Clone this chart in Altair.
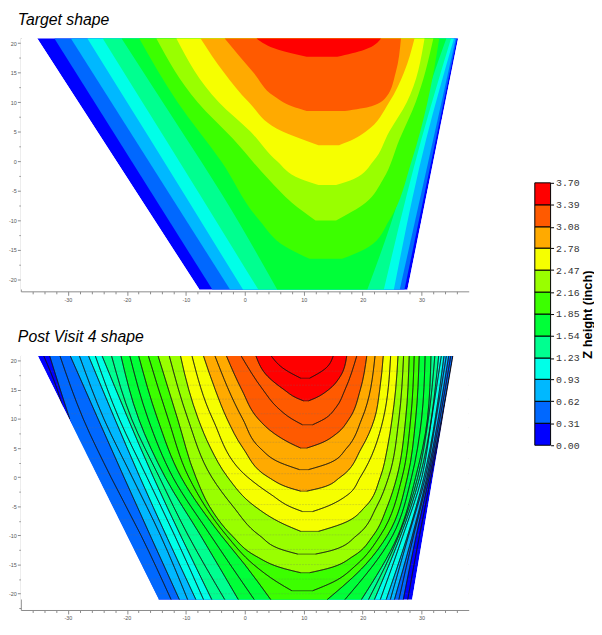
import altair as alt
import pandas as pd

# ---------------- data ----------------
LEVELS = [0.00, 0.31, 0.62, 0.93, 1.23, 1.54, 1.85, 2.16, 2.47, 2.78, 3.08, 3.39, 3.70]
COLORS = ["#0000ff", "#0068ff", "#00b8ff", "#00ffe8", "#00ff90", "#00ff38",
          "#3cff00", "#99ff00", "#f6ff00", "#ffaa00", "#ff5a00", "#ff0000"]

TOP_TITLE = "Target shape"
BOTTOM_TITLE = "Post Visit 4 shape"
LEGEND_TITLE = "Z height (inch)"

X_TICKS = [v for v in range(-36, 38, 2)]
Y_TICKS = [-22.5, -20, -17.5, -15, -12.5, -10, -7.5, -5, -2.5, 0, 2.5, 5, 7.5, 10, 12.5, 15, 17.5, 20]

# faint measurement rows visible in the lower panel
BOT_ROWS = [18.2, 15.8, 13.4, 10.9, 8.5, 6.0, 3.2, 0.6, -2.1, -4.7, -7.3, -9.9, -12.4, -15.0, -17.5, -20.0]

# Colour bands. Each list: rows of (y, x_left, x_right) enclosing the region where z >= level
top_z000 = [(20.8, -35.2, 36.2), (-21.7, -7.7, 27.6)]
top_z031 = [(20.8, -32.3, 36.0), (-21.7, -5.5, 27.1)]
top_z062 = [(20.8, -29.5, 35.8), (-21.7, -2.5, 26.3)]
top_z093 = [(20.8, -26.7, 35.5), (3.8, -16.1, 30.8), (-21.7, -0.3, 25.3)]
top_z123 = [(20.8, -24.1, 35.0), (3.8, -13.5, 30.0), (-21.7, 2.3, 23.6)]
top_z154 = [(20.8, -20.9, 34.2), (5.5, -11.0, 29.1), (-5.7, -3.8, 26.3), (-21.7, 5.5, 20.8)]
top_z185 = [(20.8, -17.9, 33.0), (10, -11.4, 31.0), (0, -4.0, 28.3), (-10, 2.5, 24.5),
            (-14.5, 7.0, 21.0), (-16.5, 11.0, 16.5)]
top_z216 = [(20.8, -15.0, 32.0), (10, -8.0, 29.0), (3.8, -2.0, 26.3), (-3, 4.0, 23.5),
            (-7, 8.0, 20.5), (-10, 12.0, 15.5)]
top_z247 = [(20.8, -11.6, 30.5), (10, -4.4, 27.5), (5, 1.0, 24.5), (0, 5.5, 21.8),
            (-3, 9.5, 18.5), (-4, 12.5, 15.5)]
top_z278 = [(20.8, -7.5, 28.8), (15, -3.5, 27.0), (10, 0.7, 24.5), (5, 6.5, 20.5),
            (3.8, 9.5, 18.6), (2.7, 12.5, 16.0)]
top_z308 = [(20.8, -3.4, 26.5), (15, 1.5, 25.6), (11, 5.0, 24.1), (9.3, 8.0, 21.5),
            (8.5, 10.5, 17.0)]
top_z339 = [(20.8, 2.0, 23.1), (18.9, 5.7, 20.3), (17.7, 10.5, 15.7)]

bot_z000 = [(20.8, -35.1, 35.4), (-21.0, -14.6, 28.4)]
bot_z031 = [(20.8, -33.1, 35.3), (15, -31.3, 34.3), (10, -29.7, 33.4), (0, -24.9, 31.3),
            (-10, -20.0, 29.1), (-21.0, -14.6, 26.9)]
bot_z062 = [(20.8, -29.6, 34.6), (0, -20.5, 30.9), (-21.0, -11.1, 25.4)]
bot_z093 = [(20.8, -26.5, 33.8), (0, -17.8, 30.4), (-21.0, -8.3, 24.0)]
bot_z123 = [(20.8, -24.2, 32.9), (0, -15.5, 29.7), (-21.0, -5.6, 22.0)]
bot_z154 = [(20.8, -21.0, 31.6), (10, -18.0, 31.0), (0, -13.5, 29.0), (-10, -7.5, 26.0),
            (-21.0, -1.1, 19.8)]
bot_z185 = [(20.8, -18.0, 29.6), (10, -14.8, 29.0), (0, -10.8, 27.6), (-10, -4.0, 24.2),
            (-15, 0.0, 20.5), (-21.0, 4.4, 14.0)]
bot_z216 = [(20.8, -14.7, 27.9), (10, -11.4, 27.3), (0, -8.3, 25.8), (-5, -6.0, 24.2),
            (-10, -2.2, 21.8), (-13.5, 1.8, 18.5), (-15.7, 6.7, 14.0), (-16.4, 9.5, 11.0)]
bot_z247 = [(20.8, -10.9, 26.0), (15, -9.5, 25.6), (10, -7.9, 25.0), (5, -5.8, 24.2),
            (0, -2.9, 23.0), (-5, 1.7, 20.5), (-8, 6.5, 16.5), (-9.3, 9.5, 12.5)]
bot_z278 = [(20.8, -7.0, 23.5), (15, -5.0, 22.9), (10, -3.0, 22.0), (5, -0.3, 19.8),
            (0, 4.0, 16.2), (-1.8, 7.5, 13.0), (-2.4, 9.5, 10.5)]
bot_z308 = [(20.8, -3.1, 20.7), (15, -0.5, 19.6), (10, 2.3, 17.7), (7.5, 5.0, 15.6),
            (5.8, 7.8, 12.8), (5.0, 9.5, 10.5)]
bot_z339 = [(20.8, 1.9, 17.3), (17.3, 3.9, 16.2), (15, 6.7, 14.2), (13.6, 8.8, 12.0),
            (13.1, 10.0, 10.8)]

# Thin black contour lines of the lower panel lying inside the colour bands (y, x_left, x_right)
bot_m015 = [(20.8, -34.1, 35.35), (15, -31.8, 34.35), (12, -30.9, 33.8), (10, None, 33.5),
            (0, None, 31.6), (-10, None, 29.65), (-21.0, None, 27.65)]
bot_m046 = [(20.8, -31.35, 34.95), (10, -27.4, 33.1), (0, -22.7, 31.1), (-10, -17.6, 28.65),
            (-21.0, -12.5, 26.15)]
bot_m077 = [(20.8, -28.05, 34.2), (10, -23.9, 32.45), (0, -19.1, 30.65), (-10, -14.3, 27.8),
            (-21.0, -9.7, 24.7)]
bot_m108 = [(20.8, -25.35, 33.35), (10, -21.3, 31.7), (0, -16.6, 30.05), (-10, -11.9, 26.85),
            (-21.0, -7.0, 23.0)]
bot_m139 = [(20.8, -22.6, 32.25), (10, -19.2, 31.15), (0, -14.5, 29.35), (-10, -9.6, 26.15),
            (-21.0, -3.4, 21.0)]
bot_m170 = [(20.8, -19.5, 30.6), (10, -16.4, 30.0), (0, -12.2, 28.3), (-10, -5.8, 25.1),
            (-21.0, 1.6, 17.0)]
bot_m200 = [(20.8, -16.35, 28.75), (10, -13.0, 28.15), (0, -9.5, 26.7), (-10, -3.1, 23.0),
            (-15, 1.5, 19.0), (-18, 5.5, 15.0), (-19.5, 8.0, 11.5)]
bot_m231 = [(20.8, -12.8, 26.95), (10, -9.65, 26.15), (0, -5.6, 24.4), (-5, -2.0, 22.4),
            (-10, 2.5, 19.0), (-12.5, 6.5, 15.0), (-13.2, 9.0, 12.0)]
bot_m262 = [(20.8, -8.95, 24.75), (10, -5.45, 23.5), (0, 0.5, 19.6), (-3, 4.5, 17.5),
            (-5.2, 8.0, 13.5), (-5.9, 9.8, 11.5)]
bot_m293 = [(20.8, -5.05, 22.1), (10, -0.35, 19.85), (5, 2.6, 17.3), (2.5, 6.0, 14.5),
            (1.3, 9.3, 10.8)]
bot_m324 = [(20.8, -0.6, 19.0), (15, 3.1, 17.0), (12, 5.5, 15.5), (10, 8.0, 13.5),
            (9.0, 9.8, 11.5)]
bot_m355 = [(20.8, 4.5, 15.0), (18.5, 6.8, 13.5), (17.0, 9.5, 11.0)]

# the 0.31 contour leaves the lower panel's left edge at about y = 10
BOT_Z031_LEFT_END = 10

TOP_LEVELS = [top_z000, top_z031, top_z062, top_z093, top_z123, top_z154,
              top_z185, top_z216, top_z247, top_z278, top_z308, top_z339]
BOT_LEVELS = [bot_z000, bot_z031, bot_z062, bot_z093, bot_z123, bot_z154,
              bot_z185, bot_z216, bot_z247, bot_z278, bot_z308, bot_z339]
BOT_MIDLINES = [bot_m015, bot_m046, bot_m077, bot_m108, bot_m139, bot_m170,
                bot_m200, bot_m231, bot_m262, bot_m293, bot_m324, bot_m355]

# ---------------- chart ----------------
AX_GRAY = "#8a8a8a"
LBL_GRAY = "#555555"
XDOM = [-38, 38]
BOTTOM_EDGE_Y = -21.0


def x_axis():
    return alt.Axis(values=X_TICKS, title=None, grid=False,
                    labelExpr="datum.value % 10 === 0 ? replace(datum.label, '\u2212', '-') : ''",
                    tickSize={"condition": {"test": "datum.value % 10 === 0", "value": 4}, "value": 2.5},
                    labelFontSize=5.5, labelColor=LBL_GRAY, labelFont="Liberation Sans",
                    labelPadding=2, domainColor=AX_GRAY, tickColor=AX_GRAY, labelFlush=False)


def y_axis():
    return alt.Axis(values=Y_TICKS, title=None, grid=False,
                    labelExpr="datum.value % 5 === 0 ? replace(datum.label, '\u2212', '-') : ''",
                    tickSize={"condition": {"test": "datum.value % 5 === 0", "value": 3.5}, "value": 2},
                    labelFontSize=5.5, labelColor=LBL_GRAY, labelFont="Liberation Sans",
                    labelPadding=1, domainColor=AX_GRAY, tickColor=AX_GRAY, labelFlush=False)


def contour_frames(line_sets, left_end=None):
    """Split (y, xl, xr) lists into branch polylines and flat U-bottoms."""
    branches, bottoms = [], []
    for i, rows in enumerate(line_sets):
        for side, col in (("L", 1), ("R", 2)):
            for r in rows:
                v = r[col]
                if v is None:
                    continue
                if left_end is not None and side == "L" and i in left_end and r[0] < left_end[i]:
                    continue
                branches.append({"id": f"{i}{side}", "y": r[0], "x": v})
        last = rows[-1]
        if last[0] > BOTTOM_EDGE_Y + 0.5 and last[1] is not None:
            bottoms.append({"y": last[0], "xl": last[1], "xr": last[2]})
    return pd.DataFrame(branches), pd.DataFrame(bottoms)


def panel(level_rows, title, ydom, height, rows=None, midlines=None):
    ysc = alt.Scale(domain=ydom, nice=False, zero=False)
    xsc = alt.Scale(domain=XDOM, nice=False, zero=False)
    Y = lambda f: alt.Y(f, scale=ysc, axis=y_axis())
    X = lambda f: alt.X(f, scale=xsc, axis=x_axis(), stack=None)
    layers = []
    for k, lv in enumerate(level_rows):
        df = pd.DataFrame(lv, columns=["y", "xl", "xr"])
        layers.append(
            alt.Chart(df).mark_area(orient="horizontal", interpolate="monotone",
                                    color=COLORS[k], strokeWidth=0).encode(
                y=Y("y:Q"), x=X("xl:Q"), x2="xr:Q")
        )
    if rows is not None:
        rdf = pd.DataFrame({"y": rows, "x0": XDOM[0], "x1": XDOM[1]})
        layers.append(
            alt.Chart(rdf).mark_rule(color="#707070", strokeWidth=0.8, opacity=0.3,
                                     strokeDash=[2, 1]).encode(
                y=Y("y:Q"), x=X("x0:Q"), x2="x1:Q")
        )
    if midlines is not None:
        line_sets = list(level_rows[1:]) + list(midlines)
        br, bt = contour_frames(line_sets, left_end={0: BOT_Z031_LEFT_END})
        layers.append(
            alt.Chart(br).mark_area(orient="horizontal", interpolate="monotone", fillOpacity=0,
                                    stroke="#141414", strokeWidth=0.7, strokeOpacity=0.85).encode(
                y=Y("y:Q"), x=X("x:Q"), x2="x:Q", detail="id:N")
        )
        layers.append(
            alt.Chart(bt).mark_rule(color="#141414", strokeWidth=0.7, opacity=0.85).encode(
                y=Y("y:Q"), x=X("xl:Q"), x2="xr:Q")
        )
    # white masks outside the measured outline
    edge = pd.DataFrame(level_rows[0], columns=["y", "xl", "xr"])
    edge["lo"] = XDOM[0]
    edge["hi"] = XDOM[1]
    for a, b in (("lo", "xl"), ("xr", "hi")):
        layers.append(
            alt.Chart(edge).mark_area(orient="horizontal", color="white", strokeWidth=0).encode(
                y=Y("y:Q"), x=X(f"{a}:Q"), x2=f"{b}:Q")
        )
    return alt.layer(*layers).properties(
        width=454, height=height,
        title=alt.TitleParams(text=title, anchor="start", frame="group", fontStyle="italic",
                              fontWeight="normal", fontSize=16, font="Liberation Sans",
                              color="black", offset=10, dx=-3),
    )


top = panel(TOP_LEVELS, TOP_TITLE, [-22, 20.9], 257)
bottom = panel(BOT_LEVELS, BOTTOM_TITLE, [-22.8, 20.9], 258, rows=BOT_ROWS, midlines=BOT_MIDLINES)
left = alt.vconcat(top, bottom, spacing=26)

CB_H = 413
CB_TOP = 3.70 * CB_H / 266.0
cb_df = pd.DataFrame({"lo": LEVELS[:-1], "hi": LEVELS[1:], "color": COLORS})
colorbar = alt.Chart(cb_df).mark_rect(stroke="black", strokeWidth=1).encode(
    y=alt.Y("lo:Q", scale=alt.Scale(domain=[0, CB_TOP], nice=False, zero=False),
            axis=alt.Axis(orient="right", values=LEVELS, format=".2f", domain=False, grid=False,
                          tickSize=3, tickColor="black", labelFont="Liberation Mono",
                          labelFontSize=10, labelColor="#333333", labelPadding=2,
                          title=LEGEND_TITLE, titleAngle=270, titleFontWeight="bold",
                          titleFontSize=13, titleFont="Liberation Sans", titleColor="black",
                          titleX=37, titleY=CB_H - 133, titleAlign="center", titleBaseline="middle")),
    y2="hi:Q",
    x=alt.value(0), x2=alt.value(16),
    color=alt.Color("color:N", scale=None),
).properties(width=16, height=CB_H)

chart = alt.hconcat(left, colorbar, spacing=65).properties(padding=0).configure_view(stroke=None)

chart.save("out.html", embed_options={"renderer": "svg", "actions": False})
